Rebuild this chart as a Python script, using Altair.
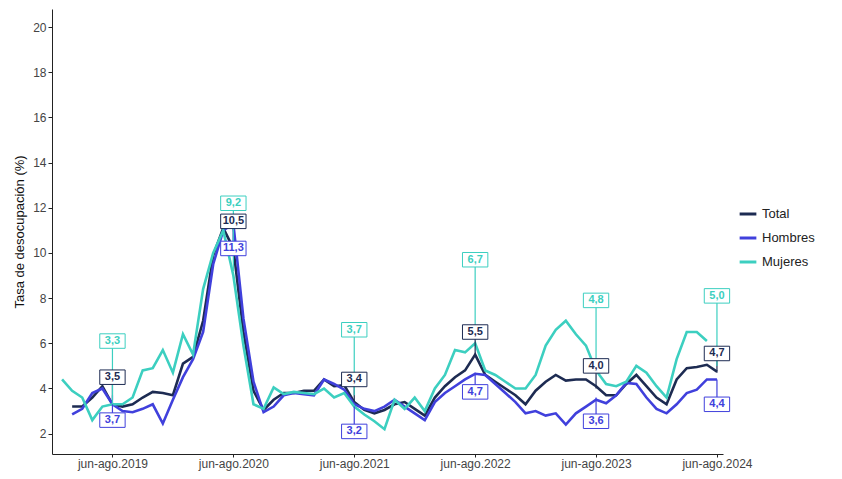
import altair as alt
import pandas as pd

# ---------------- data ----------------
periodos = list(range(66))  # ene-mar 2019 ... jun-ago 2024 (rolling quarters)
tick_idx = [5, 17, 29, 41, 53, 65]
tick_labels = ["jun-ago.2019", "jun-ago.2020", "jun-ago.2021",
               "jun-ago.2022", "jun-ago.2023", "jun-ago.2024"]

total = [None, 3.2, 3.2, 3.6, 4.1, 3.3, 3.2, 3.3, 3.6, 3.85,
         3.8, 3.7, 5.1, 5.4, 7.0, 9.9, 11.1, 10.2, 6.5, 3.9,
         3.05, 3.5, 3.8, 3.8, 3.9, 3.9, 4.4, 4.1, 4.15, 3.4,
         3.05, 2.9, 3.05, 3.3, 3.4, 3.1, 2.8, 3.6, 4.1, 4.5,
         4.8, 5.5, 4.6, 4.3, 4.0, 3.7, 3.3, 3.9, 4.3, 4.6,
         4.35, 4.4, 4.4, 4.1, 3.7, 3.7, 4.2, 4.6, 4.1, 3.6,
         3.3, 4.4, 4.9, 4.95, 5.05, 4.75]
hombres = [None, 2.85, 3.1, 3.8, 4.0, 3.3, 3.0, 2.95, 3.1, 3.3,
           2.45, 3.5, 4.5, 5.3, 6.5, 9.5, 11.0, 11.3, 7.1, 4.3,
           2.95, 3.2, 3.7, 3.8, 3.75, 3.7, 4.4, 4.2, 3.95, 3.3,
           3.1, 3.0, 3.2, 3.5, 3.2, 2.9, 2.6, 3.4, 3.8, 4.1,
           4.4, 4.65, 4.6, 4.2, 3.8, 3.4, 2.9, 3.0, 2.8, 2.9,
           2.4, 2.9, 3.2, 3.5, 3.35, 3.7, 4.25, 4.2, 3.6, 3.1,
           2.9, 3.3, 3.8, 3.95, 4.4, 4.4]
mujeres = [4.4, 3.9, 3.6, 2.6, 3.2, 3.3, 3.3, 3.6, 4.8, 4.9,
           5.7, 4.7, 6.4, 5.5, 8.4, 10.0, 11.0, 9.0, 5.9, 3.3,
           3.1, 4.05, 3.75, 3.85, 3.8, 3.75, 4.0, 3.6, 3.8, 3.2,
           2.85, 2.55, 2.2, 3.5, 3.1, 3.6, 3.0, 4.0, 4.6, 5.7,
           5.6, 6.0, 4.8, 4.6, 4.3, 4.0, 4.0, 4.6, 5.9, 6.6,
           7.0, 6.4, 5.9, 4.8, 4.2, 4.1, 4.3, 5.0, 4.7, 4.1,
           3.6, 5.3, 6.5, 6.5, 6.1, None]

series = ["Total", "Hombres", "Mujeres"]
colores = ["#1d2b52", "#4040dc", "#3ccfc0"]

# labels (text shown and the level where each label sits)
label_texts = {
    "Total":   ["3,5", "10,5", "3,4", "5,5", "4,0", "4,7"],
    "Hombres": ["3,7", "11,3", "3,2", "4,7", "3,6", "4,4"],
    "Mujeres": ["3,3", "9,2", "3,7", "6,7", "4,8", "5,0"],
}
label_levels = {
    "Total":   [4.5, 11.4, 4.4, 6.5, 5.0, 5.55],
    "Hombres": [2.6, 10.2, 2.1, 3.85, 2.55, 3.3],
    "Mujeres": [6.1, 12.2, 6.6, 9.7, 7.9, 8.1],
}

rows = []
for name, vals in zip(series, [total, hombres, mujeres]):
    for i, v in zip(periodos, vals):
        if v is not None:
            rows.append({"periodo": i, "serie": name, "tasa": v})
df = pd.DataFrame(rows)

lrows = []
for name in series:
    for i, t, lv in zip(tick_idx, label_texts[name], label_levels[name]):
        lrows.append({"periodo": i, "serie": name, "texto": t,
                      "nivel": lv, "valor": float(t.replace(",", "."))})
dl = pd.DataFrame(lrows)

# ---------------- encodings ----------------
label_expr = "[" + ",".join("'%s'" % s for s in tick_labels) + "][(datum.value-5)/12]"

xenc = alt.X("periodo:Q",
             scale=alt.Scale(domain=[-1, 65.6], nice=False, zero=False),
             axis=alt.Axis(values=tick_idx, labelExpr=label_expr, title=None,
                           grid=False, tickSize=3, labelFontSize=12,
                           labelColor="#444", labelPadding=1,
                           domainColor="#222", tickColor="#222",
                           labelFont="Liberation Sans"))

def yenc(field):
    return alt.Y(field + ":Q",
                 scale=alt.Scale(domain=[1.1, 20.8], nice=False, zero=False),
                 axis=alt.Axis(values=[2, 4, 6, 8, 10, 12, 14, 16, 18, 20],
                               title="Tasa de desocupación (%)", grid=False,
                               tickSize=4, labelFontSize=12, labelColor="#444",
                               titleFontSize=13, titleFontWeight="normal",
                               titleColor="#111", titlePadding=6,
                               domainColor="#222", tickColor="#222",
                               labelFont="Liberation Sans",
                               titleFont="Liberation Sans"))

cscale = alt.Scale(domain=series, range=colores)

lines = alt.Chart(df).mark_line(strokeWidth=2.6).encode(
    x=xenc, y=yenc("tasa"),
    color=alt.Color("serie:N", scale=cscale, sort=series,
                    legend=alt.Legend(title=None, orient="none",
                                      legendX=686, legendY=195,
                                      symbolType="stroke", symbolStrokeWidth=3,
                                      symbolSize=280, labelFontSize=13,
                                      labelColor="#222", rowPadding=7,
                                      labelFont="Liberation Sans")),
    detail="serie:N",
)

rules = alt.Chart(dl).mark_rule(strokeWidth=1.2).encode(
    x=xenc, y=yenc("nivel"), y2="valor:Q",
    color=alt.Color("serie:N", scale=cscale, legend=None),
)

box_path = "M-1.75,-1L1.75,-1L1.75,1L-1.75,1Z"
boxes = alt.Chart(dl).mark_point(shape=box_path, size=210, fill="white",
                                 fillOpacity=1, opacity=1, strokeWidth=1).encode(
    x=xenc, y=yenc("nivel"),
    stroke=alt.Stroke("serie:N", scale=cscale, legend=None),
)

texts = alt.Chart(dl).mark_text(fontSize=11, fontWeight="bold",
                                font="Liberation Sans").encode(
    x=xenc, y=yenc("nivel"), text="texto:N",
    color=alt.Color("serie:N", scale=cscale, legend=None),
)

chart = alt.layer(lines, rules, boxes, texts).properties(
    width=671, height=445,
    autosize=alt.AutoSizeParams(type="none"),
    padding={"left": 44, "top": 1, "right": 111, "bottom": 17},
).configure_view(stroke=None)

chart.save("out.html", embed_options={"renderer": "svg", "actions": False})
